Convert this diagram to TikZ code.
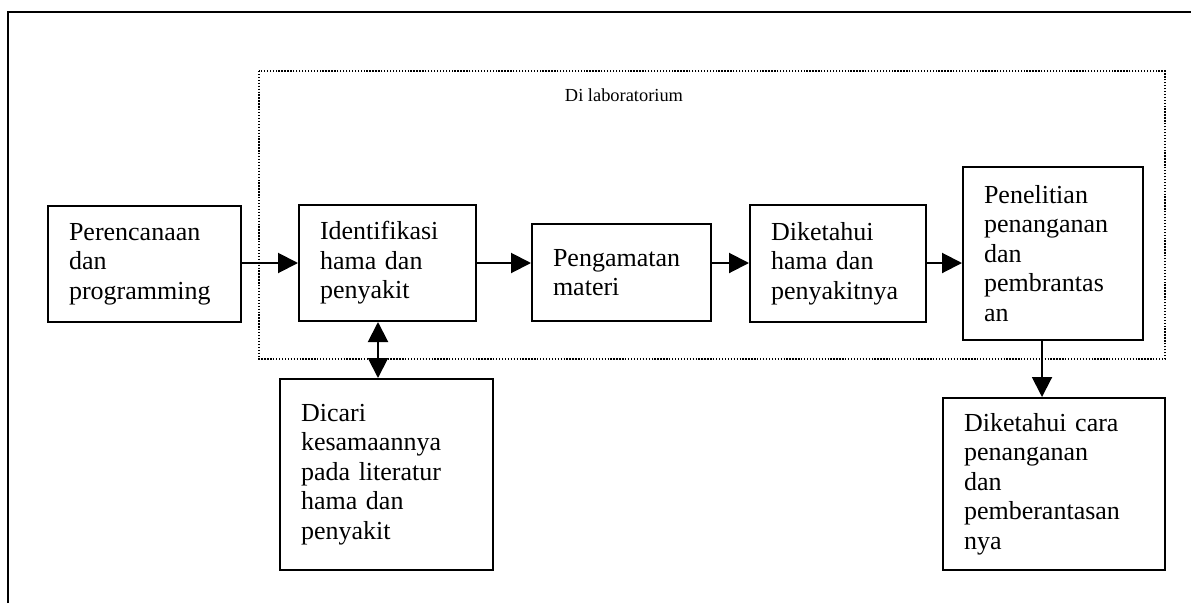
\documentclass[tikz,border=0pt]{standalone}
\usepackage{fontspec}
\setmainfont{Liberation Serif}
\usetikzlibrary{arrows.meta}
\tikzset{
  stepbox/.style 2 args={draw, line width=1.5pt, text width=#1, minimum height=#2,
    inner xsep=15.75pt, inner ysep=2pt, align=left,
    font=\fontsize{19.5}{22.1}\selectfont},
  arr/.style={line width=1.5pt, -{Triangle[length=15pt,width=15pt]}},
  darr/.style={line width=1.5pt, {Triangle[length=15pt,width=15pt]}-{Triangle[length=15pt,width=15pt]}},
  dotbox/.style={line width=1.2pt, dash pattern=on 1pt off 1.2pt},
  frame/.style={line width=1.8pt}
}
\begin{document}
\begin{tikzpicture}[x=0.75pt,y=-0.75pt]
\useasboundingbox (0,0) rectangle (1191,603);
% outer frame (only top and left edges visible)
\draw[frame] (8,603) -- (8,12) -- (1191,12);
% dotted laboratory region
\draw[dotbox] (259,71) rectangle (1165,359);
\node[anchor=base, font=\fontsize{13.8}{16}\selectfont] (lab) at (624,101) {Di laboratorium};
% boxes
\node[stepbox={113.25pt}{87pt}] (b1) at (144.5,264) {Perencanaan\\dan\\programming};
\node[stepbox={101.25pt}{87pt}] (b2) at (387.5,263) {Identifikasi\\hama dan\\penyakit};
\node[stepbox={102.75pt}{72.75pt}] (b3) at (621.5,272.5) {Pengamatan\\materi};
\node[stepbox={100.5pt}{87.75pt}] (b4) at (838,263.5) {Diketahui\\hama dan\\penyakitnya};
\node[stepbox={103.5pt}{129.75pt}] (b5) at (1053,253.5) {Penelitian\\penanganan\\dan\\pembrantas\\an};
\node[stepbox={128.25pt}{143.25pt}] (dic) at (386.5,474.5) {Dicari\\kesamaannya\\pada literatur\\hama dan\\penyakit};
\node[stepbox={135pt}{129pt}] (b6) at (1054,484) {Diketahui cara\\penanganan\\dan\\pemberantasan\\nya};
% helper coordinates for connector lines
\coordinate (row) at (0,263);
\coordinate (colA) at (378,0);
\coordinate (colB) at (1042,0);
% connectors
\draw[arr] (b1.east |- row) -- (b2.west |- row);
\draw[arr] (b2.east |- row) -- (b3.west |- row);
\draw[arr] (b3.east |- row) -- (b4.west |- row);
\draw[arr] (b4.east |- row) -- (b5.west |- row);
\draw[darr] (b2.south -| colA) -- (dic.north -| colA);
\draw[arr] (b5.south -| colB) -- (b6.north -| colB);
\end{tikzpicture}
\end{document}
